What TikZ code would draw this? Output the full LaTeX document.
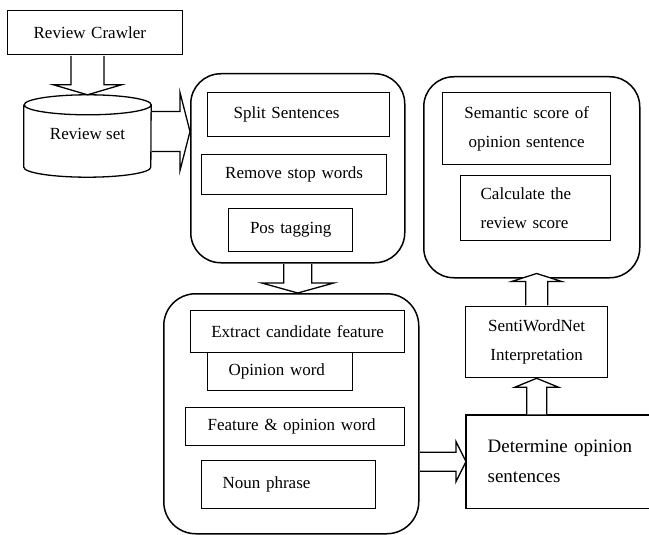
\documentclass[tikz,border=0pt]{standalone}
\usepackage{fontspec}
\setmainfont{Liberation Serif}
\usetikzlibrary{calc}

\tikzset{
  stepbox/.style={draw, line width=1.3pt, rectangle, anchor=north west, inner ysep=0pt,
    font=\fontsize{17}{29}\selectfont},
  groupbox/.style={draw, line width=1.5pt, rectangle, rounded corners=30pt, anchor=north west, inner sep=0pt},
  arrowline/.style={fill=white, draw, line width=1.3pt, line join=miter},
}

% hollow block arrow: from, to, shaft half width, head half width, head length
\newcommand{\blockarrow}[5]{%
  \coordinate (ba) at ($(#1)!0.7pt!(#2)$);
  \coordinate (bh) at ($(#2)!#5!(#1)$);
  \draw[arrowline] ($(ba)!#3!90:(#2)$) -- ($(bh)!#3!90:(#2)$) -- ($(bh)!#4!90:(#2)$) -- (#2)
    -- ($(bh)!#4!-90:(#2)$) -- ($(bh)!#3!-90:(#2)$) -- ($(ba)!#3!-90:(#2)$);
}

\begin{document}
\begin{tikzpicture}[x=1pt, y=1pt]
  \useasboundingbox (0,0) rectangle (649,-535);

  % input side
  \node[stepbox, minimum height=44pt, text width=123pt, inner xsep=26pt, align=left] (crawler) at (7,-10) {Review Crawler};
  \node[minimum width=127pt, minimum height=82pt, inner sep=0pt, font=\fontsize{17}{29}\selectfont] (set) at (87.5,-136) {\raisebox{4pt}{Review set}};
  \draw[line width=1.3pt] ([yshift=-10pt]set.north west) -- ([yshift=10pt]set.south west)
    arc[start angle=180, end angle=360, x radius=63.5pt, y radius=10pt]
    -- ([yshift=-10pt]set.north east)
    arc[start angle=0, end angle=360, x radius=63.5pt, y radius=10pt];

  % preprocessing
  \node[groupbox, minimum width=214pt, minimum height=189pt] (prep) at (190,-73) {};
  \node[stepbox, minimum height=44pt, text width=130pt, inner xsep=26pt, align=left] (split) at (207,-92) {Split Sentences};
  \node[stepbox, minimum height=40pt, text width=185pt, inner xsep=0pt, align=center] (stop) at (201,-154) {Remove stop words};
  \node[stepbox, minimum height=43pt, text width=124pt, inner xsep=0pt, align=center] (pos) at (228,-208) {Pos tagging};

  % feature extraction
  \node[groupbox, rounded corners=32pt, minimum width=255pt, minimum height=240pt] (extract) at (163,-293) {};
  \node[stepbox, minimum height=42pt, text width=214pt, inner xsep=0pt, align=center] (candidate) at (190,-310) {Extract candidate feature};
  \node[stepbox, minimum height=38pt, text width=103pt, inner xsep=21pt, align=left] (opinion) at (207,-352) {Opinion word};
  \node[stepbox, minimum height=38pt, text width=175pt, inner xsep=22pt, align=left] (featop) at (185,-407) {Feature \& opinion word};
  \node[stepbox, minimum height=48pt, text width=132pt, inner xsep=21pt, align=left] (noun) at (201,-460) {Noun phrase};

  % scoring
  \node[stepbox, draw=none, minimum height=92pt, text width=170pt, inner xsep=21pt, align=left,
    font=\fontsize{19}{30}\selectfont] (determine) at (466,-415) {Determine opinion\\sentences};
  \draw[line width=1.3pt] (determine.north east) -- (determine.north west)
    -- (determine.south west) -- (determine.south east);
  \node[stepbox, minimum height=71pt, text width=142pt, inner xsep=0pt, align=center] (senti) at (465,-306) {SentiWordNet\\Interpretation};
  \node[groupbox, minimum width=216pt, minimum height=201pt] (score) at (423,-76) {};
  \node[stepbox, minimum height=72pt, text width=168pt, inner xsep=0pt, align=center] (semantic) at (442,-92) {Semantic score of\\opinion sentence};
  \node[stepbox, minimum height=65pt, text width=110pt, inner xsep=20pt, align=left] (review) at (460,-175) {Calculate the\\review score};

  % block arrows
  \coordinate (setout) at ([yshift=4.5pt]set.east);
  \coordinate (scorein) at ($(senti.north |- score.south)+(0,5)$);
  \blockarrow{set.north |- crawler.south}{set.north}{16.5pt}{34pt}{10pt}
  \blockarrow{setout}{setout -| prep.west}{20pt}{39pt}{10pt}
  \blockarrow{prep.south}{prep.south |- extract.north}{14pt}{36pt}{10pt}
  \blockarrow{extract.east |- determine.west}{determine.west}{9.5pt}{20pt}{10pt}
  \blockarrow{senti.south |- determine.north}{senti.south}{10pt}{22pt}{9pt}
  \blockarrow{senti.north}{scorein}{11pt}{25pt}{8pt}
\end{tikzpicture}
\end{document}
